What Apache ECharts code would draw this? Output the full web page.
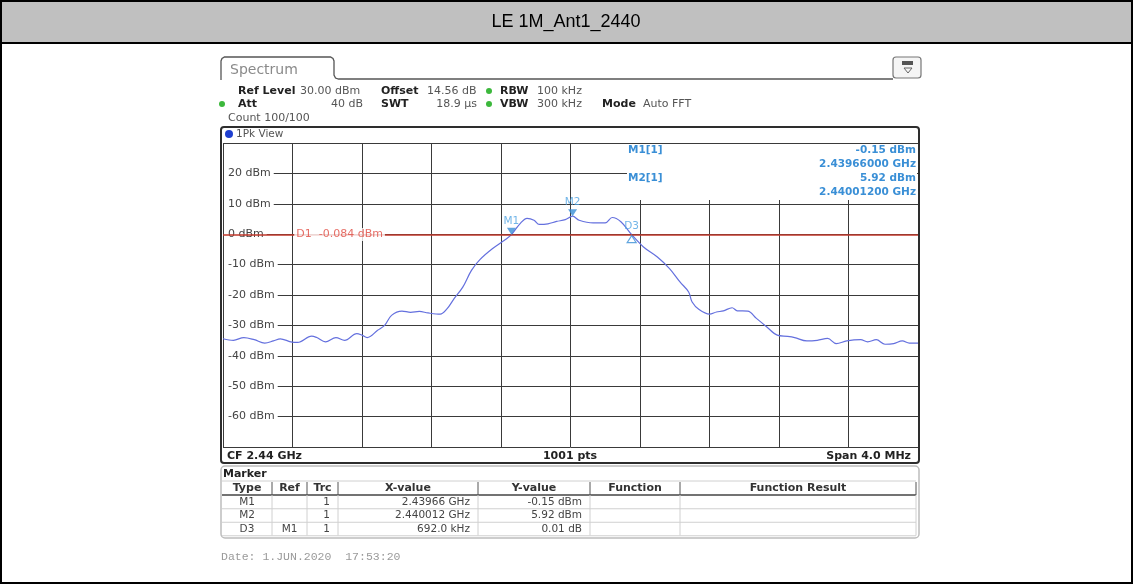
<!DOCTYPE html>
<html lang="en">
<head>
<meta charset="UTF-8">
<title>LE 1M_Ant1_2440</title>
<script src="https://cdn.jsdelivr.net/npm/echarts@6/dist/echarts.min.js"></script>
<style>
    html, body { margin: 0; padding: 0; background: #fff; }
    #spectrum { width: 1133px; height: 584px; }
</style>
</head>
<body>
<div id="spectrum"></div>
<script type="text/javascript">
    var titleText = 'LE 1M_Ant1_2440';

    // trace 1 (1Pk View), frequency in MHz / level in dBm
    var freqMHz = [2438.00, 2438.06, 2438.12, 2438.18, 2438.24, 2438.29, 2438.33, 2438.39, 2438.43, 2438.51,
        2438.54, 2438.59, 2438.65, 2438.70, 2438.77, 2438.80, 2438.83, 2438.89, 2438.93, 2438.97,
        2439.03, 2439.08, 2439.13, 2439.18, 2439.25, 2439.29, 2439.33, 2439.38, 2439.43, 2439.48,
        2439.55, 2439.62, 2439.66, 2439.71, 2439.75, 2439.79, 2439.82, 2439.87, 2439.92, 2439.97,
        2440.012, 2440.05, 2440.13, 2440.20, 2440.24, 2440.29, 2440.352, 2440.42, 2440.50, 2440.57,
        2440.63, 2440.68, 2440.70, 2440.74, 2440.80, 2440.84, 2440.88, 2440.93, 2440.96, 2441.02,
        2441.07, 2441.13, 2441.19, 2441.25, 2441.29, 2441.36, 2441.42, 2441.48, 2441.53, 2441.59,
        2441.67, 2441.71, 2441.76, 2441.81, 2441.86, 2441.91, 2441.95, 2442.00];
    var levelDbm = [-34.4, -34.9, -34.0, -34.7, -35.8, -35.1, -34.4, -35.4, -35.6, -33.5,
        -34.0, -35.4, -34.0, -34.9, -32.7, -33.2, -34.0, -31.6, -30.0, -26.7,
        -25.3, -25.7, -25.4, -25.9, -26.3, -24.5, -21.2, -17.4, -11.9, -8.3,
        -4.8, -2.0, -0.15, 3.5, 5.2, 4.6, 3.2, 3.4, 4.2, 4.8,
        5.92, 4.6, 3.7, 3.7, 5.5, 4.1, -0.14, -4.2, -7.5, -11.3,
        -15.7, -19.0, -22.3, -24.8, -26.3, -25.6, -25.2, -24.2, -25.2, -25.3,
        -27.7, -30.5, -33.2, -33.6, -34.0, -35.1, -34.9, -34.3, -36.0, -35.1,
        -34.7, -35.4, -34.7, -36.2, -36.0, -35.1, -35.8, -35.8];

    var markerNames = ['M1', 'M2', 'D3'];
    var markerFreq = [2439.66, 2440.012, 2440.352];
    var markerLevel = [-0.15, 5.92, -0.14];

    var d1Level = -0.084;
    var d1Text = 'D1  -0.084 dBm';
    var d1LabelFreq = 2438.41;

    var markerInfo = [
        ['M1[1]', '-0.15 dBm', '2.43966000 GHz'],
        ['M2[1]', '5.92 dBm', '2.44001200 GHz']
    ];

    var tableHeader = ['Type', 'Ref', 'Trc', 'X-value', 'Y-value', 'Function', 'Function Result'];
    var tableRows = [
        ['M1', '', '1', '2.43966 GHz', '-0.15 dBm', '', ''],
        ['M2', '', '1', '2.440012 GHz', '5.92 dBm', '', ''],
        ['D3', 'M1', '1', '692.0 kHz', '0.01 dB', '', '']
    ];

    var FONT = 'DejaVu Sans';
    var g = [];

    function addText(x, y, text, o) {
        o = o || {};
        g.push({
            type: 'text', x: x, y: y, z: o.z || 10, silent: true,
            style: {
                text: text,
                fill: o.color || '#333',
                font: (o.bold ? 'bold ' : '') + (o.size || 11) + 'px ' + (o.family || FONT),
                textAlign: o.align || 'left', align: o.align || 'left',
                textVerticalAlign: 'middle', verticalAlign: 'middle'
            }
        });
    }
    function addLine(x1, y1, x2, y2, color, w, z) {
        g.push({type: 'line', z: z || 10, silent: true, shape: {x1: x1, y1: y1, x2: x2, y2: y2},
            style: {stroke: color, lineWidth: w || 1}});
    }
    function addRect(x, y, w, h, o) {
        g.push({type: 'rect', z: o.z || 10, silent: true, shape: {x: x, y: y, width: w, height: h, r: o.r || 0},
            style: {fill: o.fill || 'none', stroke: o.stroke || null, lineWidth: o.lw || 1}});
    }
    function addDot(cx, cy, r, color) {
        g.push({type: 'circle', z: 10, silent: true, shape: {cx: cx, cy: cy, r: r}, style: {fill: color}});
    }

    // outer page frame and title band
    addRect(0, 0, 1133, 43, {fill: '#c0c0c0', z: 1});
    addRect(1, 1, 1131, 582, {stroke: '#000', lw: 2, z: 20});
    addLine(0, 43, 1133, 43, '#000', 2, 20);
    addText(566, 22, titleText, {family: 'Liberation Sans', size: 18, color: '#000', align: 'center'});

    // spectrum tab
    g.push({type: 'polyline', z: 10, silent: true,
        shape: {points: [[221, 80], [221, 61], [222, 58.5], [224.5, 57], [330.5, 57], [333, 58.5], [334, 61],
            [334, 75], [335.5, 78], [338.5, 79], [893, 79]]},
        style: {stroke: '#555', lineWidth: 1.3, fill: 'none'}});
    addText(230, 70, 'Spectrum', {size: 14, color: '#8a8a8a'});
    addRect(893, 57, 28, 21, {r: 3, stroke: '#777', fill: '#f5f5f5', lw: 1.2});
    addRect(902, 61, 11, 4, {fill: '#555'});
    g.push({type: 'polygon', z: 10, silent: true, shape: {points: [[904, 68], [912, 68], [908, 73]]},
        style: {fill: 'none', stroke: '#666', lineWidth: 1}});

    // setting lines
    addText(238, 91, 'Ref Level', {bold: true, color: '#222'});
    addText(300, 91, '30.00 dBm', {color: '#555'});
    addText(381, 91, 'Offset', {bold: true, color: '#222'});
    addText(427, 91, '14.56 dB', {color: '#555'});
    addDot(489, 91, 3, '#3cb83c');
    addText(500, 91, 'RBW', {bold: true, color: '#222'});
    addText(537, 91, '100 kHz', {color: '#555'});
    addDot(222, 104, 3, '#3cb83c');
    addText(238, 104, 'Att', {bold: true, color: '#222'});
    addText(363, 104, '40 dB', {color: '#555', align: 'right'});
    addText(381, 104, 'SWT', {bold: true, color: '#222'});
    addText(477, 104, '18.9 µs', {color: '#555', align: 'right'});
    addDot(489, 104, 3, '#3cb83c');
    addText(500, 104, 'VBW', {bold: true, color: '#222'});
    addText(537, 104, '300 kHz', {color: '#555'});
    addText(602, 104, 'Mode', {bold: true, color: '#222'});
    addText(643, 104, 'Auto FFT', {color: '#555'});
    addText(228, 118, 'Count 100/100', {color: '#555'});

    // diagram frame
    addRect(221, 127, 698, 336, {stroke: '#2e2e2e', lw: 2, r: 3, z: 15});
    addDot(229, 134, 4, '#1f3fd0');
    addText(236, 134, '1Pk View', {size: 10.5, color: '#555'});
    addText(227, 456, 'CF 2.44 GHz', {bold: true, color: '#222'});
    addText(570, 456, '1001 pts', {bold: true, color: '#222', align: 'center'});
    addText(911, 456, 'Span 4.0 MHz', {bold: true, color: '#222', align: 'right'});

    // marker info box (covers the grid)
    addRect(627, 144, 290, 56, {fill: '#fff', z: 1});
    markerInfo.forEach(function (m, i) {
        var y0 = 150 + i * 28;
        addText(628, y0, m[0], {bold: true, size: 10.5, color: '#3a8fd6', z: 11});
        addText(916, y0, m[1], {bold: true, size: 10.5, color: '#3a8fd6', align: 'right', z: 11});
        addText(916, y0 + 14, m[2], {bold: true, size: 10.5, color: '#3a8fd6', align: 'right', z: 11});
    });

    // marker table
    var colEdges = [222, 272, 307, 338, 478, 590, 680, 916];
    var colAlign = ['center', 'center', 'right', 'right', 'right', 'center', 'center'];
    addRect(221, 466, 698, 72, {stroke: '#bdbdbd', lw: 1.5, r: 4, fill: '#fff', z: 2});
    addText(223, 474, 'Marker', {bold: true, color: '#222'});
    addLine(222, 481, 916, 481, '#d0d0d0', 1);
    addLine(222, 495, 916, 495, '#444', 1.5);
    tableHeader.forEach(function (h, c) {
        addText((colEdges[c] + colEdges[c + 1]) / 2, 488, h, {bold: true, color: '#333', align: 'center'});
    });
    for (var c = 1; c < colEdges.length; c++) {
        addLine(colEdges[c], 482, colEdges[c], 495, '#555', 1);
        addLine(colEdges[c], 495, colEdges[c], 535.5, '#d0d0d0', 1);
    }
    tableRows.forEach(function (row, r) {
        var yc = 502 + r * 13.5;
        addLine(222, yc + 6.75, 916, yc + 6.75, '#d0d0d0', 1);
        row.forEach(function (cell, c) {
            if (!cell) return;
            var x = colAlign[c] === 'center' ? (colEdges[c] + colEdges[c + 1]) / 2 : colEdges[c + 1] - 8;
            addText(x, yc, cell, {size: 10.5, color: '#444', align: colAlign[c]});
        });
    });

    addText(221, 557, 'Date: 1.JUN.2020  17:53:20', {family: 'Liberation Mono', size: 11.5, color: '#9a9a9a'});

    var traceData = freqMHz.map(function (f, i) { return [f, levelDbm[i]]; });
    var mData = [0, 1].map(function (i) { return {name: markerNames[i], value: [markerFreq[i], markerLevel[i]]}; });
    var dData = [{name: markerNames[2], value: [markerFreq[2], markerLevel[2]]}];

    var chart = echarts.init(document.getElementById('spectrum'));
    chart.setOption({
        animation: false,
        grid: {left: 223, top: 143, width: 695, height: 304},
        xAxis: {
            type: 'value', min: 2438, max: 2442, interval: 0.4,
            axisLine: {show: false}, axisTick: {show: false}, axisLabel: {show: false},
            splitLine: {lineStyle: {color: '#3a3a3a', width: 1}}
        },
        yAxis: [{
            type: 'value', min: -70, max: 30, interval: 10, z: 0,
            axisLine: {show: false}, axisTick: {show: false}, axisLabel: {show: false},
            splitLine: {lineStyle: {color: '#3a3a3a', width: 1}}
        }, {
            type: 'value', min: -70, max: 30, interval: 10, z: 1, position: 'left',
            axisLine: {show: false}, axisTick: {show: false}, splitLine: {show: false},
            axisLabel: {
                inside: true, margin: 1, formatter: '{value} dBm',
                showMinLabel: false, showMaxLabel: false,
                fontFamily: FONT, fontSize: 11, color: '#444',
                backgroundColor: '#fff', padding: [1, 3, 1, 4]
            }
        }],
        graphic: {elements: g},
        series: [{
            type: 'line', data: traceData, showSymbol: false, smooth: 0.35, z: 2,
            lineStyle: {color: '#6470de', width: 1.2},
            markLine: {
                silent: true, symbol: 'none', animation: false, z: 12,
                data: [{yAxis: d1Level}],
                lineStyle: {color: '#c0392b', width: 1.5, type: 'solid'},
                label: {show: false}
            }
        }, {
            type: 'scatter', data: [[d1LabelFreq, d1Level]], symbolSize: 0, z: 13,
            label: {
                show: true, position: 'right', distance: 0, formatter: d1Text,
                fontFamily: FONT, fontSize: 11, color: '#e04a40',
                backgroundColor: '#fff', padding: [1, 2]
            }
        }, {
            type: 'scatter', data: mData, symbol: 'triangle', symbolRotate: 180,
            symbolSize: [9, 7], symbolOffset: [0, -3.5], z: 13,
            itemStyle: {color: '#3a8fd6'},
            label: {show: true, position: 'top', distance: 1, formatter: '{b}',
                fontFamily: FONT, fontSize: 10.5, color: '#4da3e2'}
        }, {
            type: 'scatter', data: dData, symbol: 'triangle',
            symbolSize: [9, 7], symbolOffset: [0, 4.5], z: 13,
            itemStyle: {color: '#fff', borderColor: '#3a8fd6', borderWidth: 1.2},
            label: {show: true, position: 'top', distance: 3, formatter: '{b}',
                fontFamily: FONT, fontSize: 10.5, color: '#4da3e2'}
        }]
    });
</script>
</body>
</html>
